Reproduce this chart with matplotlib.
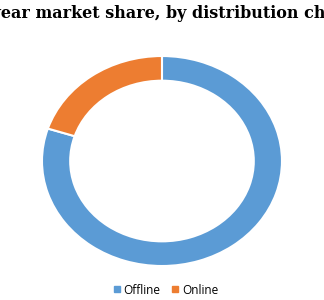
import matplotlib
matplotlib.use('Agg')
import matplotlib.pyplot as plt
from matplotlib.lines import Line2D

# data
channels = ['Offline', 'Online']
shares = [80, 20]
colors = ['#5B9BD5', '#ED7D31']
title = 'Footwear market share, by distribution channel'

fig = plt.figure(figsize=(3.24, 3.0), dpi=100)
ax = fig.add_axes([0.1296, 0.1133, 0.7407, 0.70])

ax.pie(shares, colors=colors, startangle=90, counterclock=False, radius=1.0,
       wedgeprops=dict(width=0.235, edgecolor='white', linewidth=1.5))
ax.set_aspect('auto')
ax.set_xlim(-1, 1)
ax.set_ylim(-1, 1)

fig.text(0.5, 0.955, title, ha='center', va='center', fontsize=11.5,
         fontweight='bold', family='DejaVu Serif')

handles = [Line2D([], [], marker='s', linestyle='none', markersize=4.5,
                  markerfacecolor=c, markeredgecolor=c) for c in colors]
fig.legend(handles, channels, loc='center', bbox_to_anchor=(0.511, 0.033),
           ncol=2, frameon=False, handlelength=0.6,
           handletextpad=0.3, columnspacing=0.9,
           prop={'family': 'Open Sans', 'size': 8.5})

fig.savefig('out.png', dpi=100)
